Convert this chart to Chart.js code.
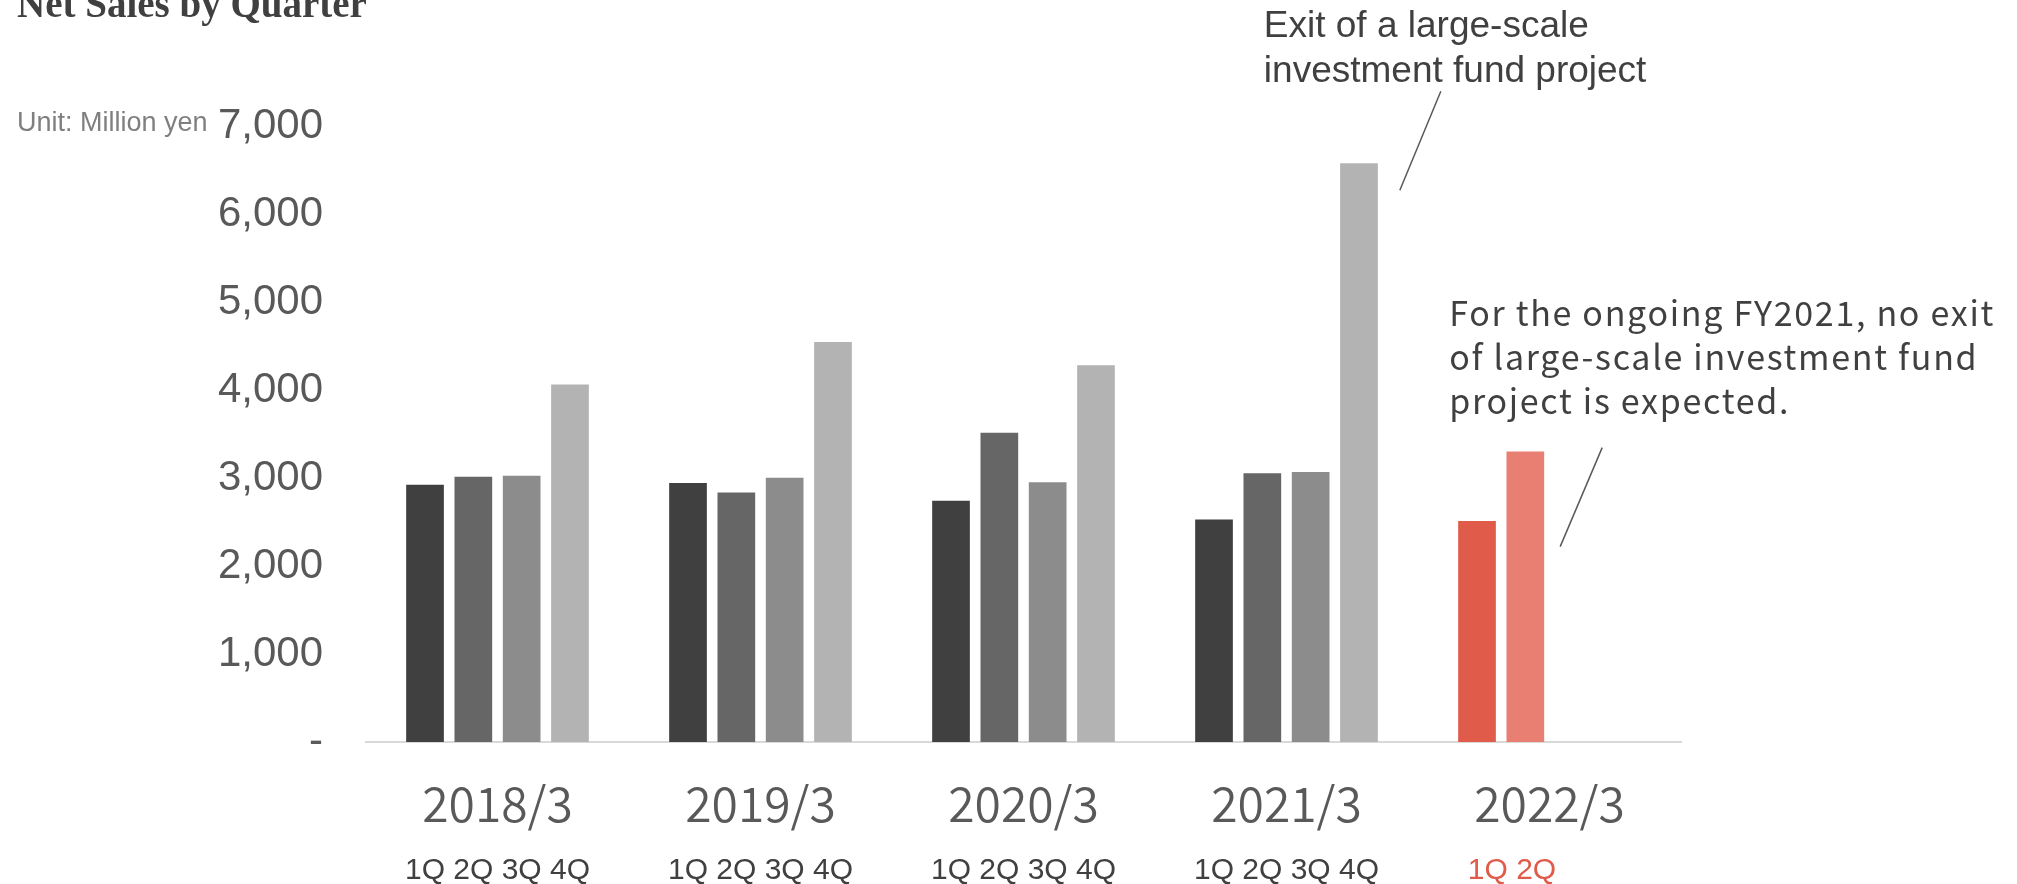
<!DOCTYPE html>
<html>
<head>
<meta charset="utf-8">
<script src="https://cdn.jsdelivr.net/npm/chart.js@4"></script>
<style>
  html, body { margin: 0; padding: 0; background: #fff; overflow: hidden; }
  #salesChart { display: block; }
</style>
</head>
<body>
<canvas id="salesChart" width="2017" height="884"></canvas>
<script>
// fiscal years and the quarter captions under them
const years = ['2018/3', '2019/3', '2020/3', '2021/3', '2022/3'];
const quarterLabels = ['1Q 2Q 3Q 4Q', '1Q 2Q 3Q 4Q', '1Q 2Q 3Q 4Q', '1Q 2Q 3Q 4Q', '1Q 2Q'];

// net sales, million yen
const q1 = [2923, 2942, 2741, 2528, 2511];
const q2 = [3014, 2836, 3514, 3054, 3300];
const q3 = [3025, 3003, 2952, 3069, null];
const q4 = [4063, 4545, 4282, 6576, null];

const greys = ['#404040', '#666666', '#8c8c8c', '#b3b3b3'];
const reds = ['#e15b4a', '#e97e72'];

const sans = "'Liberation Sans', Arial, sans-serif";
const jp = "'Noto Sans CJK JP', 'Noto Sans', sans-serif";

function barColors(i) {
  return years.map((y, k) => (k === years.length - 1 && reds[i]) ? reds[i] : greys[i]);
}

// notes, title and unit drawn on top of the chart
const notes = {
  id: 'notes',
  afterDraw(chart) {
    const ctx = chart.ctx;
    ctx.save();

    ctx.fillStyle = '#404040';
    ctx.font = "bold 39px 'Liberation Serif', serif";
    ctx.textAlign = 'left';
    ctx.textBaseline = 'alphabetic';
    ctx.fillText('Net Sales by Quarter', 17, 17);

    ctx.fillStyle = '#7f7f7f';
    ctx.font = '27px ' + sans;
    ctx.textBaseline = 'middle';
    ctx.fillText('Unit: Million yen', 17, chart.scales.y.getPixelForValue(7000) - 2);

    ctx.textBaseline = 'alphabetic';
    ctx.strokeStyle = '#595959';
    ctx.lineWidth = 1.5;

    // 2021/3 4Q bar
    const b1 = chart.getDatasetMeta(3).data[3];
    const r1 = b1.x + b1.width / 2;
    ctx.fillStyle = '#404040';
    ctx.font = '37px ' + sans;
    ctx.fillText('Exit of a large-scale', r1 - 114, b1.y - 126);
    ctx.fillText('investment fund project', r1 - 114, b1.y - 81);
    ctx.beginPath();
    ctx.moveTo(r1 + 63, b1.y - 72);
    ctx.lineTo(r1 + 22, b1.y + 27);
    ctx.stroke();

    // 2022/3 2Q bar
    const b2 = chart.getDatasetMeta(1).data[4];
    const r2 = b2.x + b2.width / 2;
    ctx.font = '34px ' + jp;
    ctx.letterSpacing = '1.7px';
    ctx.fillText('For the ongoing FY2021, no exit', r2 - 95, b2.y - 126);
    ctx.fillText('of large-scale investment fund', r2 - 95, b2.y - 82);
    ctx.fillText('project is expected.', r2 - 95, b2.y - 38);
    ctx.letterSpacing = '0px';
    ctx.beginPath();
    ctx.moveTo(r2 + 58, b2.y - 4);
    ctx.lineTo(r2 + 16, b2.y + 95);
    ctx.stroke();

    ctx.restore();
  }
};

const ctx = document.getElementById('salesChart').getContext('2d');
const salesChart = new Chart(ctx, {
  type: 'bar',
  data: {
    labels: years,
    datasets: [
      { label: '1Q', data: q1, backgroundColor: barColors(0) },
      { label: '2Q', data: q2, backgroundColor: barColors(1) },
      { label: '3Q', data: q3, backgroundColor: barColors(2) },
      { label: '4Q', data: q4, backgroundColor: barColors(3) }
    ]
  },
  options: {
    responsive: false,
    devicePixelRatio: 1,
    animation: false,
    categoryPercentage: 0.735,
    barPercentage: 0.78,
    layout: { padding: { top: 126, right: 336, left: 0, bottom: 0 } },
    plugins: {
      legend: { display: false },
      tooltip: { enabled: false }
    },
    scales: {
      y: {
        min: 0,
        max: 7000,
        ticks: {
          stepSize: 1000,
          padding: 43,
          color: '#595959',
          font: { family: sans, size: 42 },
          callback: v => v === 0 ? '-' : v.toLocaleString('en-US')
        },
        grid: { display: false, drawTicks: false },
        border: { display: false },
        afterFit: s => { s.width = 366; }
      },
      x: {
        weight: 1,
        offset: true,
        ticks: {
          padding: 33,
          color: '#595959',
          font: { family: jp, size: 48, weight: 350 }
        },
        grid: { display: false, drawTicks: false },
        border: { display: true, color: '#d9d9d9', width: 2 },
        afterFit: s => { s.height = 100; }
      },
      x2: {
        type: 'category',
        position: 'bottom',
        weight: 2,
        offset: true,
        labels: quarterLabels,
        ticks: {
          padding: 11,
          color: c => c.index === 4 ? '#e15b4a' : '#404040',
          font: { family: sans, size: 30 },
          // the 2022/3 caption lines up with the left of the other groups
          callback: (v, i) => i === 4 ? quarterLabels[i] + ' '.repeat(9) : quarterLabels[i]
        },
        grid: { display: false, drawTicks: false },
        border: { display: false },
        afterFit: s => { s.height = 42; }
      }
    }
  },
  plugins: [notes]
});
</script>
</body>
</html>
